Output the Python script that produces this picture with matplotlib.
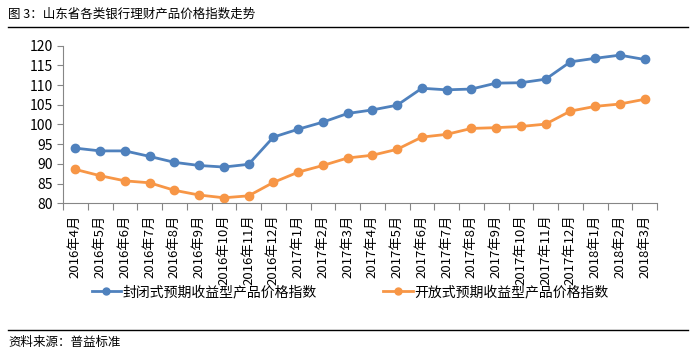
import numpy as np
import matplotlib.pyplot as plt
from matplotlib.lines import Line2D

plt.rcParams['font.family'] = ['Noto Sans CJK SC', 'DejaVu Sans']

# 月份
months = ['2016年4月', '2016年5月', '2016年6月', '2016年7月', '2016年8月', '2016年9月',
          '2016年10月', '2016年11月', '2016年12月', '2017年1月', '2017年2月', '2017年3月',
          '2017年4月', '2017年5月', '2017年6月', '2017年7月', '2017年8月', '2017年9月',
          '2017年10月', '2017年11月', '2017年12月', '2018年1月', '2018年2月', '2018年3月']

# 封闭式预期收益型产品价格指数
closed_idx = [94.0, 93.3, 93.3, 91.9, 90.4, 89.6, 89.2, 89.9, 96.8, 98.8, 100.6, 102.8,
              103.7, 104.9, 109.2, 108.8, 109.0, 110.5, 110.6, 111.5, 115.9, 116.8, 117.6, 116.5]

# 开放式预期收益型产品价格指数
open_idx = [88.6, 87.0, 85.7, 85.2, 83.3, 82.1, 81.4, 81.9, 85.3, 87.9, 89.6, 91.5,
            92.2, 93.7, 96.8, 97.5, 99.0, 99.2, 99.5, 100.1, 103.4, 104.6, 105.2, 106.4]

blue = '#4F81BD'
orange = '#F79646'
grey = '#868686'

fig = plt.figure(figsize=(6.95, 3.54), dpi=100)
W, H = 695, 354
ax = fig.add_axes([63 / W, 1 - 203.3 / H, (657 - 63) / W, (203.3 - 45.7) / H])

x = np.arange(len(months))
ax.plot(x, closed_idx, color=blue, lw=2, marker='o', ms=6, label='封闭式预期收益型产品价格指数')
ax.plot(x, open_idx, color=orange, lw=2, marker='o', ms=6, label='开放式预期收益型产品价格指数')

ax.set_xlim(-0.5, len(months) - 0.5)
ax.set_ylim(80, 120)
ax.set_yticks(np.arange(80, 121, 5))
ax.tick_params(axis='y', labelsize=10, length=4, color=grey, pad=3)

# 分类轴：刻度在类别之间
ax.set_xticks(np.arange(-0.5, len(months), 1))
ax.set_xticklabels([])
ax.tick_params(axis='x', length=5, color=grey, direction='out')
ax.set_xticks(x, minor=True)
ax.set_xticklabels(months, minor=True, rotation=90, fontsize=9.5)
ax.tick_params(axis='x', which='minor', length=0, pad=8)

for s in ['top', 'right']:
    ax.spines[s].set_visible(False)
ax.spines['left'].set_color(grey)
ax.spines['bottom'].set_color(grey)

# 图例
handles = [Line2D([], [], color=blue, lw=2, marker='o', ms=5),
           Line2D([], [], color=orange, lw=2, marker='o', ms=5)]
fig.legend(handles, ['封闭式预期收益型产品价格指数', '开放式预期收益型产品价格指数'],
           loc='center', bbox_to_anchor=(350 / W, 1 - 292 / H), ncol=2, frameon=False,
           fontsize=10, columnspacing=4.8, handlelength=2.1, handletextpad=0.1)

# 标题和来源
fig.text(8 / W, 1 - 14 / H, '图 3：山东省各类银行理财产品价格指数走势', fontsize=9,
         va='center', ha='left')
fig.add_artist(Line2D([8 / W, 688 / W], [1 - 27 / H, 1 - 27 / H], color='black', lw=1))
fig.add_artist(Line2D([8 / W, 688 / W], [1 - 330 / H, 1 - 330 / H], color='black', lw=1))
fig.text(8 / W, 1 - 342 / H, '资料来源：普益标准', fontsize=9, va='center', ha='left')

fig.savefig('out.png', dpi=100)
